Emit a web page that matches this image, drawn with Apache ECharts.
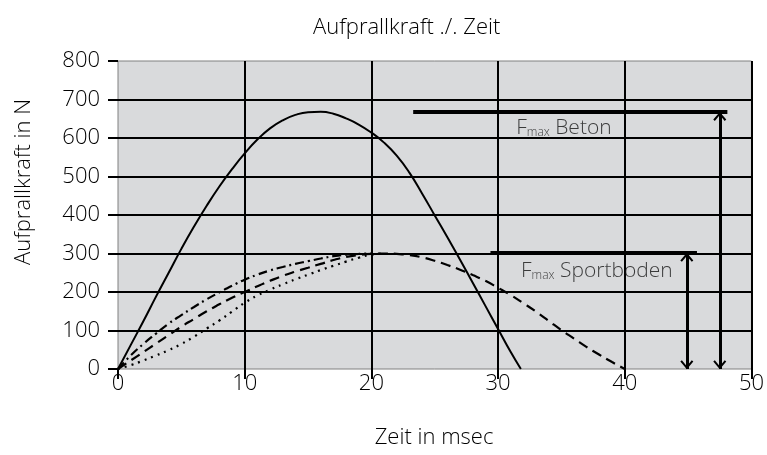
<!DOCTYPE html>
<html>
<head>
<meta charset="utf-8">
<script src="https://cdn.jsdelivr.net/npm/echarts@6/dist/echarts.min.js"></script>
<style>
html, body { margin: 0; padding: 0; background: #fff; }
#main { width: 767px; height: 455px; }
</style>
</head>
<body>
<div id="main"></div>
<script>
// Aufprallkraft (N) über Zeit (msec)
var betonZeit  = [0, 1, 2, 3, 4, 5, 6, 7, 8, 9, 10, 11, 12, 13, 14, 15, 16, 17, 18, 19, 20, 21, 22, 23, 24, 25, 26, 27, 28, 29, 30, 31, 31.8];
var betonKraft = [0, 62, 124, 188, 250, 312, 370, 424, 474, 519, 560, 596, 625, 646, 660, 667, 668, 663, 651, 635, 614, 588, 554, 510, 456, 399, 342, 284, 224, 164, 104, 44, 0];

var strichPunktZeit  = [0, 1, 2, 3, 4, 5, 6, 7, 8, 9, 10, 11, 12, 13, 14, 15, 16, 17, 18, 19, 20];
var strichPunktKraft = [0, 35, 65, 92, 118, 140, 161, 181, 199, 216, 232, 245, 256, 265, 273, 280, 287, 293, 297, 299, 300];

var gestricheltZeit  = [0, 1, 2, 3, 4, 5, 6, 7, 8, 9, 10, 11, 12, 13, 14, 15, 16, 17, 18, 19, 20, 21, 22, 23, 24, 25, 26, 27, 28, 29, 30, 31, 32, 33, 34, 35, 36, 37, 38, 39, 40];
var gestricheltKraft = [0, 22, 44, 66, 88, 110, 130, 150, 168, 185, 200, 215, 229, 242, 253, 263, 273, 283, 291, 296, 299, 300, 299, 296, 290, 281, 270, 258, 244, 229, 211, 192, 171, 149, 125, 101, 79, 57, 37, 18, 0];

var gepunktetZeit  = [0, 1, 2, 3, 4, 5, 6, 7, 8, 9, 10, 11, 12, 13, 14, 15, 16, 17, 18, 19, 20, 21];
var gepunktetKraft = [0, 10, 22, 35, 49, 65, 84, 105, 126, 149, 172, 191, 206, 220, 233, 245, 257, 268, 279, 289, 297, 300];

// Fmax-Markierungen: Linie [Zeit von, Zeit bis, Kraft], Pfeil [Zeit, Kraft], Beschriftung [Zeit, Kraft]
var fmaxBeton = { linie: [23.3, 48.1, 667], pfeil: [47.5, 667], text: [35.2, 630] };
var fmaxSport = { linie: [29.4, 45.7, 301], pfeil: [44.9, 301], text: [37.8, 259] };

var schrift = "'Open Sans', 'DejaVu Sans', sans-serif";
var chevron = 'path://M5,0L10,7L8.8,8.2L5,2.8L1.2,8.2L0,7Z';
var spitze = 11; // halbe Pfeilspitzenhöhe in N

function paare(xs, ys) {
    return xs.map(function (x, i) { return [x, ys[i]]; });
}

function schaft(p) {
    return [
        { coord: [p[0], 0], symbol: 'none', lineStyle: { width: 3 } },
        { coord: [p[0], p[1]], symbol: 'none' }
    ];
}

function spitzen(p) {
    return [
        { coord: [p[0], spitze], symbol: chevron, symbolSize: [13, 9], lineStyle: { width: 3 } },
        { coord: [p[0], p[1] - spitze], symbol: chevron, symbolSize: [13, 9] }
    ];
}

function linie(l) {
    return [
        { coord: [l[0], l[2]], symbol: 'none', lineStyle: { width: 4 } },
        { coord: [l[1], l[2]], symbol: 'none' }
    ];
}

var myChart = echarts.init(document.getElementById('main'), null, { renderer: 'canvas' });

var option = {
    backgroundColor: '#fff',
    animation: false,
    textStyle: { fontFamily: schrift, fontWeight: 300 },
    grid: {
        left: 118, right: 13, top: 61, bottom: 86,
        show: true,
        backgroundColor: '#d9dadc',
        borderColor: '#808080',
        borderWidth: 1
    },
    graphic: [
        { type: 'text', left: 313, top: 17, style: { text: 'Aufprallkraft ./. Zeit', fontSize: 22, fontWeight: 300, fontFamily: schrift, fill: '#000' } },
        { type: 'text', x: 434, y: 438, style: { text: 'Zeit in msec', fontSize: 22, fontWeight: 300, fontFamily: schrift, fill: '#000', align: 'center', verticalAlign: 'middle' } },
        { type: 'text', x: 24, y: 182, rotation: Math.PI / 2, style: { text: 'Aufprallkraft in N', fontSize: 22, fontWeight: 300, fontFamily: schrift, fill: '#000', align: 'center', verticalAlign: 'middle' } }
    ],
    xAxis: {
        type: 'value', min: 0, max: 50, interval: 10,
        axisLine: { show: false },
        axisTick: { show: true, length: 10, lineStyle: { color: '#000', width: 2 } },
        axisLabel: { fontSize: 22, fontWeight: 300, color: '#000', margin: 4, fontFamily: schrift },
        splitLine: { show: true, showMinLine: false, showMaxLine: true, lineStyle: { color: '#000', width: 2 } }
    },
    yAxis: {
        type: 'value', min: 0, max: 800, interval: 100,
        axisLine: { show: false },
        axisTick: { show: true, length: 10, lineStyle: { color: '#000', width: 2 } },
        axisLabel: { fontSize: 22, fontWeight: 300, color: '#000', margin: 18, fontFamily: schrift },
        splitLine: { show: true, showMinLine: false, showMaxLine: false, lineStyle: { color: '#000', width: 2 } }
    },
    series: [
        {
            name: 'Beton', type: 'line', smooth: true, showSymbol: false, silent: true,
            data: paare(betonZeit, betonKraft),
            lineStyle: { color: '#000', width: 2 },
            markLine: {
                silent: true, symbol: ['none', 'none'], label: { show: false },
                lineStyle: { color: '#000', type: 'solid', width: 3 },
                data: [
                    linie(fmaxBeton.linie), schaft(fmaxBeton.pfeil), spitzen(fmaxBeton.pfeil),
                    linie(fmaxSport.linie), schaft(fmaxSport.pfeil), spitzen(fmaxSport.pfeil)
                ]
            }
        },
        {
            name: 'Strich-Punkt', type: 'line', smooth: true, showSymbol: false, silent: true,
            data: paare(strichPunktZeit, strichPunktKraft),
            lineStyle: { color: '#000', width: 2.2, type: [9, 4, 2, 4] }
        },
        {
            name: 'Gestrichelt', type: 'line', smooth: true, showSymbol: false, silent: true,
            data: paare(gestricheltZeit, gestricheltKraft),
            lineStyle: { color: '#000', width: 2.2, type: [10, 6] }
        },
        {
            name: 'Gepunktet', type: 'line', smooth: true, showSymbol: false, silent: true,
            data: paare(gepunktetZeit, gepunktetKraft),
            lineStyle: { color: '#000', width: 2.2, type: [2, 5] }
        },
        {
            name: 'Fmax', type: 'scatter', silent: true, symbolSize: 1,
            itemStyle: { color: 'rgba(0,0,0,0)' },
            data: [
                { value: fmaxBeton.text, name: 'Beton' },
                { value: fmaxSport.text, name: 'Sportboden' }
            ],
            label: {
                show: true, position: 'inside',
                formatter: function (p) { return '{f|F}{s|max}{t| ' + p.name + '}'; },
                rich: {
                    f: { fontSize: 21, fontWeight: 300, color: '#111', fontFamily: schrift, verticalAlign: 'bottom', lineHeight: 24 },
                    s: { fontSize: 12, fontWeight: 300, color: '#111', fontFamily: schrift, verticalAlign: 'bottom', lineHeight: 16 },
                    t: { fontSize: 21, fontWeight: 300, color: '#111', fontFamily: schrift, verticalAlign: 'bottom', lineHeight: 24 }
                }
            }
        }
    ]
};

myChart.setOption(option);
</script>
</body>
</html>
